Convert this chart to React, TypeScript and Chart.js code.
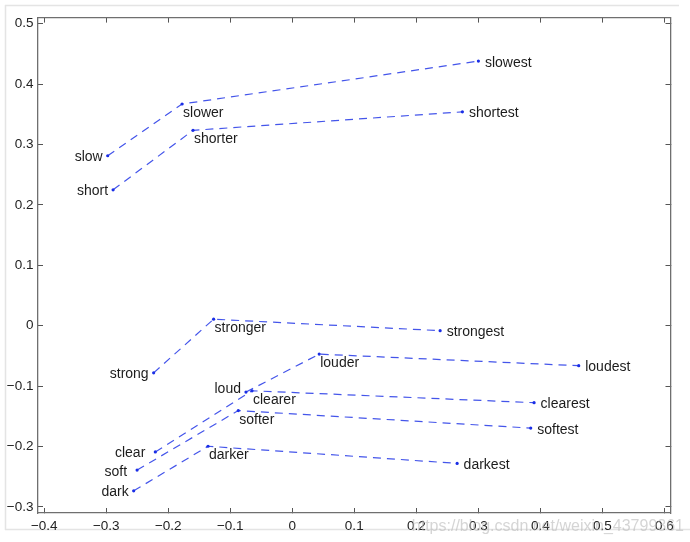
import React, { useEffect, useRef } from "react";
import { Chart, registerables } from "chart.js";

Chart.register(...registerables);

// ---- data ----
const baseWords = ["slow", "short", "strong", "loud", "clear", "soft", "dark"];
const comparativeWords = ["slower", "shorter", "stronger", "louder", "clearer", "softer", "darker"];
const superlativeWords = ["slowest", "shortest", "strongest", "loudest", "clearest", "softest", "darkest"];

const baseX = [-0.2976, -0.2889, -0.2235, -0.0746, -0.2208, -0.2502, -0.2557];
const baseY = [0.2813, 0.225, -0.078, -0.1098, -0.2089, -0.2389, -0.2733];
const comparativeX = [-0.1777, -0.16, -0.1268, 0.0435, -0.0649, -0.087, -0.1358];
const comparativeY = [0.367, 0.3234, 0.0108, -0.047, -0.1077, -0.1405, -0.1995];
const superlativeX = [0.3002, 0.2744, 0.2385, 0.462, 0.39, 0.3846, 0.2659];
const superlativeY = [0.438, 0.354, -0.0082, -0.0662, -0.1274, -0.1695, -0.2279];

const xTicks = [-0.4, -0.3, -0.2, -0.1, 0, 0.1, 0.2, 0.3, 0.4, 0.5, 0.6];
const yTicks = [-0.3, -0.2, -0.1, 0, 0.1, 0.2, 0.3, 0.4, 0.5];
const xRange = [-0.41, 0.61];
const yRange = [-0.31, 0.51];

const watermark = "https://blog.csdn.net/weixin_43799361";

// ---- styling ----
const FONT = '"Liberation Sans", Arial, Helvetica, sans-serif';
const LINE_BLUE = "rgba(35,55,230,0.85)";
const DOT_BLUE = "#1a2ee6";
const AXIS = "#6f6f6f";

const fmt = (v: number) => {
  if (Math.abs(v) < 1e-9) return "0";
  return (v < 0 ? "\u2212" : "") + Math.abs(v).toFixed(1);
};

const labelNudge: Record<string, [number, number]> = {
  clear: [-5, 0],
  soft: [-5, 0],
  loud: [0, -5],
};

const wordLabelsPlugin = {
  id: "wordLabels",
  afterDatasetsDraw(chart: any) {
    const ctx = chart.ctx;
    ctx.save();
    ctx.font = `14px ${FONT}`;
    ctx.fillStyle = "#1c1c1c";
    ctx.textBaseline = "alphabetic";
    chart.data.datasets.forEach((ds: any, i: number) => {
      const meta = chart.getDatasetMeta(i);
      meta.data.forEach((el: any, j: number) => {
        const word = ds.words[j];
        const n = labelNudge[word] || [0, 0];
        let x = el.x;
        let y = el.y;
        if (j === 0) {
          ctx.textAlign = "right";
          x -= 5;
          y += 5.5;
        } else if (j === 1) {
          ctx.textAlign = "left";
          x += 1;
          y += 13;
        } else {
          ctx.textAlign = "left";
          x += 6.5;
          y += 5.5;
        }
        ctx.fillText(word, x + n[0], y + n[1]);
      });
    });
    ctx.restore();
  },
};

const framePlugin = {
  id: "frame",
  beforeDraw(chart: any) {
    const ctx = chart.ctx;
    ctx.save();
    ctx.fillStyle = "#ffffff";
    ctx.fillRect(0, 0, chart.width, chart.height);
    ctx.strokeStyle = "#e4e4e4";
    ctx.lineWidth = 1.5;
    ctx.beginPath();
    ctx.moveTo(5, 5.5);
    ctx.lineTo(679, 5.5);
    ctx.moveTo(5.5, 5);
    ctx.lineTo(5.5, 530);
    ctx.moveTo(5, 529.5);
    ctx.lineTo(690, 529.5);
    ctx.stroke();
    ctx.restore();
  },
  afterDraw(chart: any) {
    const ctx = chart.ctx;
    ctx.save();
    ctx.font = `16px ${FONT}`;
    ctx.fillStyle = "rgba(185,185,185,0.6)";
    ctx.textAlign = "right";
    ctx.textBaseline = "alphabetic";
    ctx.fillText(watermark, 684, 531);
    ctx.restore();
  },
};

export default function App() {
  const ref = useRef<HTMLCanvasElement | null>(null);

  useEffect(() => {
    if (!ref.current) return;
    const datasets = baseWords.map((w, i) => ({
      label: w,
      words: [baseWords[i], comparativeWords[i], superlativeWords[i]],
      data: [
        { x: baseX[i], y: baseY[i] },
        { x: comparativeX[i], y: comparativeY[i] },
        { x: superlativeX[i], y: superlativeY[i] },
      ],
      showLine: true,
      borderColor: LINE_BLUE,
      borderWidth: 1.2,
      borderDash: [8, 6],
      pointRadius: 1.6,
      pointBorderWidth: 0,
      pointBackgroundColor: DOT_BLUE,
      pointBorderColor: DOT_BLUE,
      fill: false,
      tension: 0,
    }));

    const tickFont = { family: FONT, size: 13.5 };
    const grid = {
      drawOnChartArea: false,
      drawTicks: true,
      tickLength: -5,
      color: "#555555",
      tickWidth: 1,
    };
    const border = { display: true, color: AXIS, width: 1.3 };

    const chart = new Chart(ref.current, {
      type: "scatter",
      data: { datasets } as any,
      options: {
        animation: false,
        responsive: false,
        layout: { padding: { left: 0, top: 12, right: 19.5, bottom: 0 } },
        plugins: {
          legend: { display: false },
          tooltip: { enabled: false },
          title: { display: false },
        },
        scales: {
          x: {
            type: "linear",
            position: "bottom",
            min: xRange[0],
            max: xRange[1],
            afterBuildTicks: (a: any) => {
              a.ticks = xTicks.map((v) => ({ value: v }));
            },
            afterFit: (s: any) => {
              s.height = 29;
            },
            ticks: {
              callback: (v: any) => fmt(Number(v)),
              font: tickFont,
              color: "#222222",
              padding: 10,
              maxRotation: 0,
              autoSkip: false,
            },
            grid,
            border,
          },
          x2: {
            type: "linear",
            position: "top",
            min: xRange[0],
            max: xRange[1],
            afterBuildTicks: (a: any) => {
              a.ticks = xTicks.map((v) => ({ value: v }));
            },
            afterFit: (s: any) => {
              s.height = 0;
            },
            ticks: { display: false },
            grid,
            border,
          },
          y: {
            type: "linear",
            position: "left",
            min: yRange[0],
            max: yRange[1],
            afterBuildTicks: (a: any) => {
              a.ticks = yTicks.map((v) => ({ value: v }));
            },
            afterFit: (s: any) => {
              s.width = 38;
            },
            ticks: {
              callback: (v: any) => fmt(Number(v)),
              font: tickFont,
              color: "#222222",
              padding: 9.5,
              autoSkip: false,
            },
            grid,
            border,
          },
          y2: {
            type: "linear",
            position: "right",
            min: yRange[0],
            max: yRange[1],
            afterBuildTicks: (a: any) => {
              a.ticks = yTicks.map((v) => ({ value: v }));
            },
            afterFit: (s: any) => {
              s.width = 0;
            },
            ticks: { display: false },
            grid,
            border,
          },
        },
      } as any,
      plugins: [framePlugin, wordLabelsPlugin],
    });
    return () => chart.destroy();
  }, []);

  return (
    <div style={{ position: "fixed", left: 0, top: 0, width: 690, height: 542, background: "#fff" }}>
      <canvas ref={ref} width={690} height={542} style={{ display: "block" }} />
    </div>
  );
}
